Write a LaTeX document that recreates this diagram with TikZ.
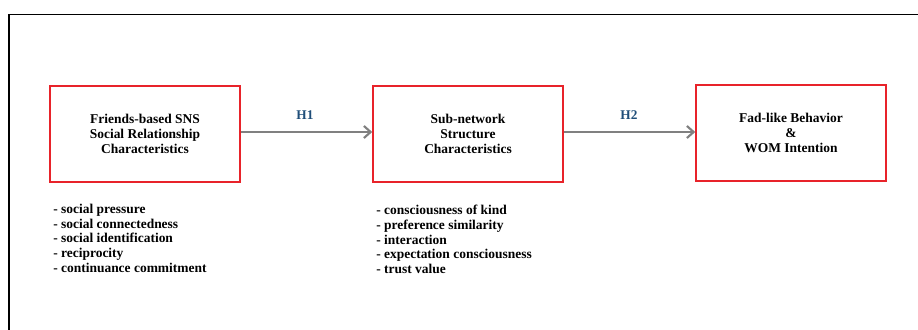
\documentclass[tikz,border=0pt]{standalone}
\usepackage{fontspec}
\setmainfont{Liberation Serif}
\usetikzlibrary{arrows.meta}
\definecolor{hblue}{HTML}{1F4E79}
\definecolor{boxred}{HTML}{E8232A}
\definecolor{arrgray}{HTML}{808080}
\begin{document}
\begin{tikzpicture}[x=0.75pt,y=-0.75pt,
  cbox/.style={draw=boxred,line width=1.2pt,minimum width=142.5pt,minimum height=72pt,inner sep=0pt,align=center,font=\fontsize{10.1}{11.3}\selectfont\bfseries},
  hlab/.style={font=\fontsize{10}{11}\selectfont\bfseries,text=hblue},
  conn/.style={draw=arrgray,line width=2pt,-{Straight Barb[length=5pt,width=9pt,line width=1.6pt]}},
  lst/.style={anchor=north west,align=left,inner sep=0pt,font=\fontsize{10.1}{11}\selectfont\bfseries}]
\useasboundingbox (0,0) rectangle (918,329);
\begin{scope}
\clip (0,0) rectangle (918,329);
\draw[line width=1.1pt] (9,340) -- (9,14.5) -- (930,14.5);
\end{scope}
\node[cbox] (a) at (145,134) {Friends-based SNS\\Social Relationship\\Characteristics};
\node[cbox] (b) at (468,134) {Sub-network\\Structure\\Characteristics};
\node[cbox] (c) at (791,133) {Fad-like Behavior\\\&\\WOM Intention};
\draw[conn] (a.east |- 0,132) -- (b.west |- 0,132);
\draw[conn] (b.east |- 0,132) -- (c.west |- 0,132);
\node[hlab] (h1) at (305,115) {H1};
\node[hlab] (h2) at (629,115) {H2};
\node[lst] (l1) at (53,204) {- social pressure\\- social connectedness\\- social identification\\- reciprocity\\- continuance commitment};
\node[lst] (l2) at (376,205) {- consciousness of kind\\- preference similarity\\- interaction\\- expectation consciousness\\- trust value};
\end{tikzpicture}
\end{document}
